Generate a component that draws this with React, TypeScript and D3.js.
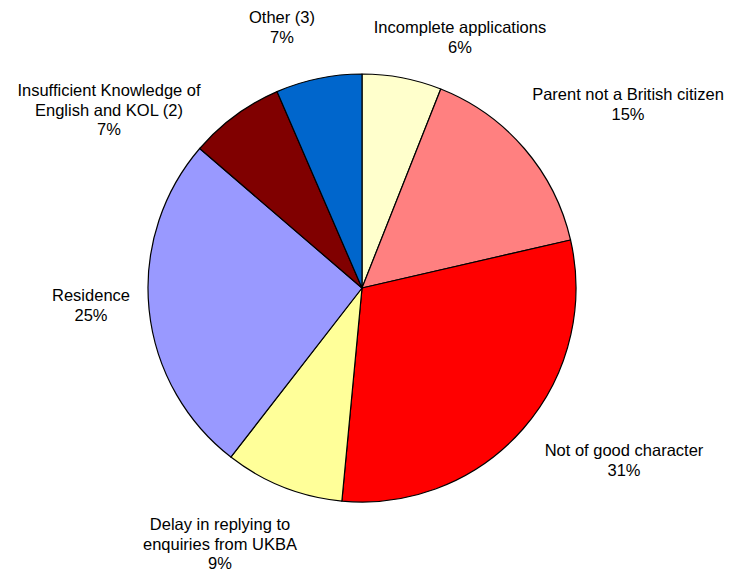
import * as React from 'react';
import {pie as d3Pie, arc as d3Arc} from 'd3';

// Slices clockwise from 12 o'clock, values in percent
const categories = [
  'Incomplete applications',
  'Parent not a British citizen',
  'Not of good character',
  'Delay in replying to enquiries from UKBA',
  'Residence',
  'Insufficient Knowledge of English and KOL (2)',
  'Other (3)',
];
const shares = [6.0, 15.4, 30.1, 9.0, 25.8, 7.2, 6.5];
const shareLabels = ['6%', '15%', '31%', '9%', '25%', '7%', '7%'];
// how each category name is broken into lines on the chart
const labelLines = [
  ['Incomplete applications'],
  ['Parent not a British citizen'],
  ['Not of good character'],
  ['Delay in replying to', 'enquiries from UKBA'],
  ['Residence'],
  ['Insufficient Knowledge of', 'English and KOL (2)'],
  ['Other (3)'],
];

const colors = ['#FFFFCC', '#FF8080', '#FF0000', '#FFFF99', '#9999FF', '#800000', '#0066CC'];

// label anchors (centre x, first baseline)
const labelAt: [number, number][] = [
  [460, 33], [628, 100], [624, 456], [220, 530], [91, 301], [109, 96], [282, 23],
];

const W = 730;
const H = 576;
const cx = 362;
const cy = 288;
const radius = 214;
const lineH = 19.5;

export default function App() {
  const arcs = d3Pie<number>().sort(null).value((d) => d)(shares);
  const arcGen = d3Arc<any>().innerRadius(0).outerRadius(radius);

  return <div style={{position: 'fixed', left: 0, top: 0, width: W, height: H, background: '#fff'}}>
    <svg width={W} height={H} style={{display: 'block'}}
         fontFamily="'Liberation Sans', Arial, sans-serif" fontSize={16.5}>
      <g transform={`translate(${cx},${cy})`}>
        {arcs.map((a, i) =>
          <path key={categories[i]} d={arcGen(a) as string} fill={colors[i]}
                stroke="#000" strokeWidth={1.2} strokeLinejoin="round" />)}
      </g>
      {labelLines.map((lines, i) => {
        const [x, y] = labelAt[i];
        const all = [...lines, shareLabels[i]];
        return <text key={categories[i]} x={x} y={y} textAnchor="middle" fill="#000">
          {all.map((t, j) => <tspan key={j} x={x} y={y + j * lineH}>{t}</tspan>)}
        </text>;
      })}
    </svg>
  </div>;
}
